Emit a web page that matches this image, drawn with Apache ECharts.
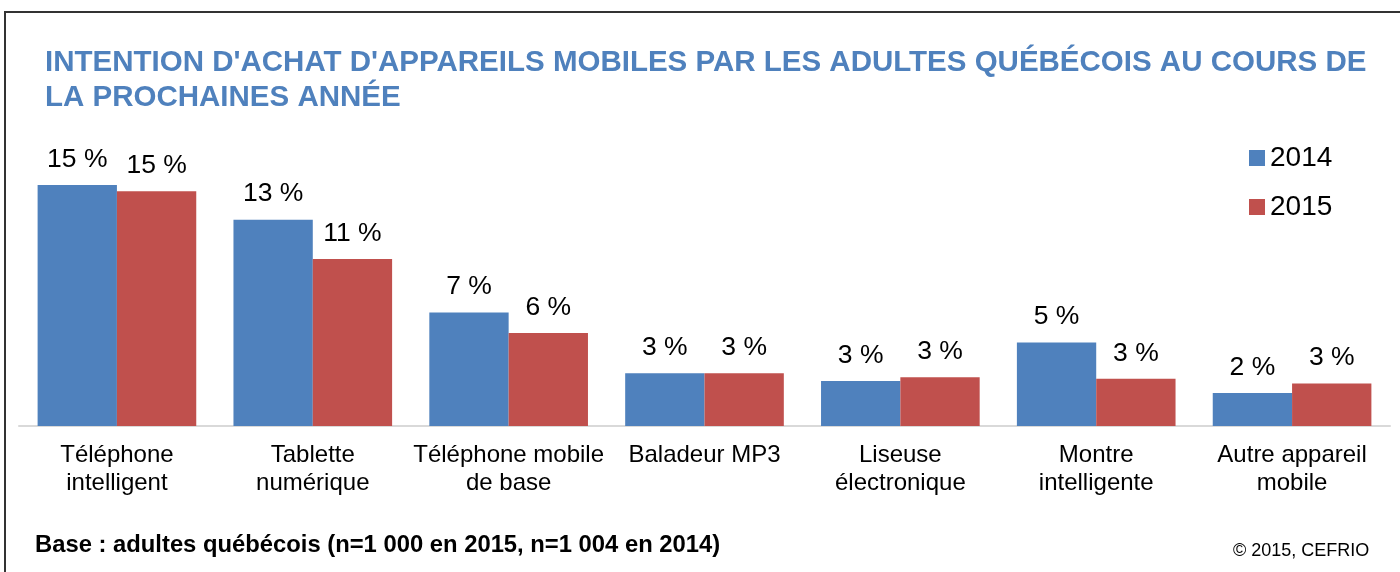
<!DOCTYPE html>
<html>
<head>
<meta charset="utf-8">
<script src="https://cdn.jsdelivr.net/npm/echarts@6/dist/echarts.min.js"></script>
<style>
  html, body { margin: 0; padding: 0; background: #fff; }
  #chart { width: 1400px; height: 572px; }
</style>
</head>
<body>
<div id="chart"></div>
<script>
// catégories et valeurs (en %)
var categories = [
  'Téléphone\nintelligent',
  'Tablette\nnumérique',
  'Téléphone mobile\nde base',
  'Baladeur MP3',
  'Liseuse\nélectronique',
  'Montre\nintelligente',
  'Autre appareil\nmobile'
];
var values2014 = [15.3, 13.1, 7.2, 3.35, 2.85, 5.3, 2.1];
var values2015 = [14.9, 10.6, 5.9, 3.35, 3.1, 3.0, 2.7];
var seriesNames = ['2014', '2015'];

var chart = echarts.init(document.getElementById('chart'));

var labelOpt = {
  show: true,
  position: 'top',
  distance: 12,
  fontFamily: 'Liberation Sans, Arial, sans-serif',
  fontSize: 26.5,
  color: '#000',
  formatter: function (p) { return Math.round(p.value) + ' %'; }
};

var option = {
  animation: false,
  color: ['#4f81bd', '#c0504d'],
  textStyle: { fontFamily: 'Liberation Sans, Arial, sans-serif' },
  title: {
    text: "INTENTION D'ACHAT D'APPAREILS MOBILES PAR LES ADULTES QUÉBÉCOIS AU COURS DE\nLA PROCHAINES ANNÉE",
    left: 40,
    top: 40,
    textStyle: {
      fontFamily: 'Liberation Sans, Arial, sans-serif',
      fontWeight: 'bold',
      fontSize: 29.5,
      lineHeight: 35,
      color: '#4f81bd'
    }
  },
  legend: {
    orient: 'vertical',
    left: 1244,
    top: 139,
    itemWidth: 16,
    itemHeight: 16,
    itemGap: 21,
    icon: 'rect',
    textStyle: { fontSize: 28, color: '#000', lineHeight: 28 },
    data: seriesNames
  },
  grid: {
    left: 19,
    right: 10,
    top: 174,
    bottom: 146
  },
  xAxis: {
    type: 'category',
    data: categories,
    axisLine: { lineStyle: { color: '#d9d9d9', width: 2 } },
    axisTick: { show: false },
    axisLabel: {
      interval: 0,
      margin: 15,
      fontSize: 24,
      lineHeight: 28,
      color: '#000'
    }
  },
  yAxis: {
    type: 'value',
    min: 0,
    max: 16,
    show: false,
    splitLine: { show: false }
  },
  series: [
    {
      name: seriesNames[0],
      type: 'bar',
      data: values2014,
      barGap: '0%',
      barCategoryGap: '19%',
      label: labelOpt
    },
    {
      name: seriesNames[1],
      type: 'bar',
      data: values2015,
      barGap: '0%',
      barCategoryGap: '19%',
      label: labelOpt
    }
  ],
  graphic: [
    {
      // cadre (haut et gauche seulement visibles)
      type: 'rect',
      shape: { x: 5, y: 12, width: 1420, height: 600 },
      style: { fill: 'none', stroke: '#333', lineWidth: 2 },
      silent: true
    },
    {
      type: 'text',
      left: 35,
      top: 533,
      style: {
        text: 'Base : adultes québécois (n=1 000 en 2015, n=1 004 en 2014)',
        fontFamily: 'Liberation Sans, Arial, sans-serif',
        fontWeight: 'bold',
        fontSize: 23.8,
        fill: '#000'
      }
    },
    {
      type: 'text',
      left: 1233,
      top: 542,
      style: {
        text: '© 2015, CEFRIO',
        fontFamily: 'Liberation Sans, Arial, sans-serif',
        fontSize: 18,
        fill: '#000'
      }
    }
  ]
};

chart.setOption(option);
</script>
</body>
</html>
